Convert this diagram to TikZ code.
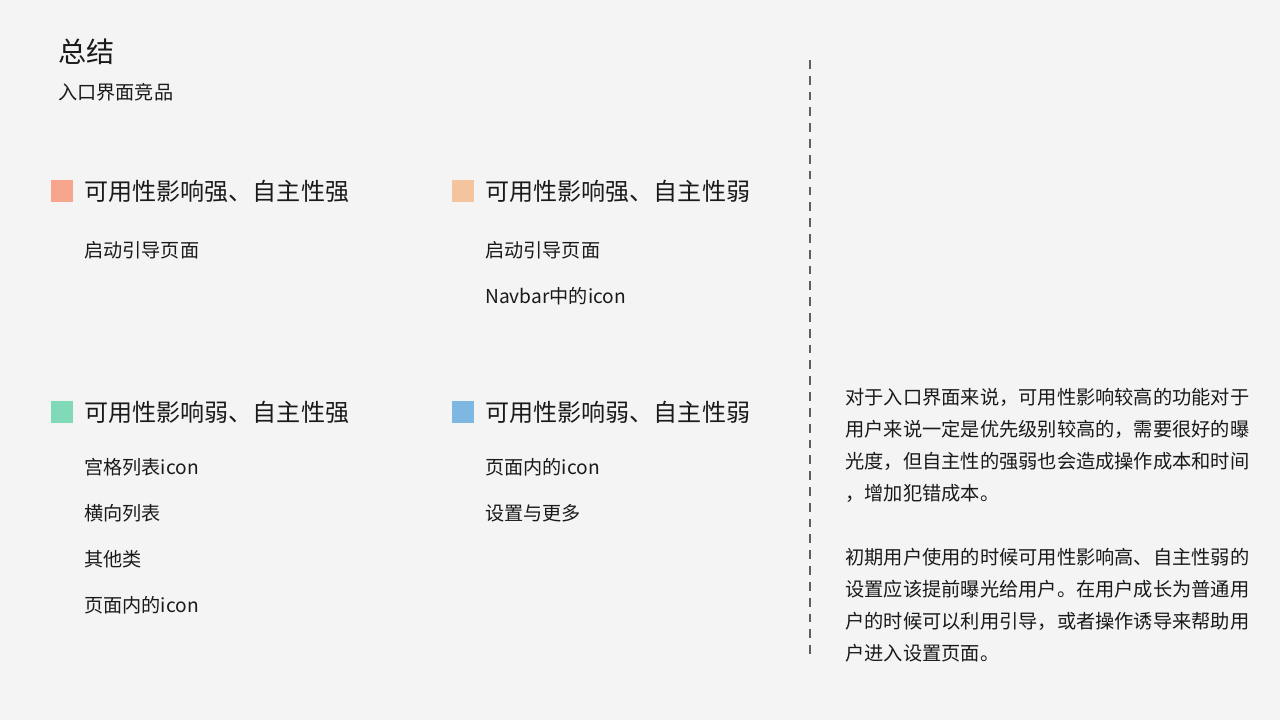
\documentclass[tikz,border=0pt]{standalone}
\usepackage{fontspec}
\setmainfont{Noto Sans CJK SC}
\definecolor{bgcol}{HTML}{F4F4F4}
\definecolor{sqA}{HTML}{F7A58C}
\definecolor{sqB}{HTML}{F3C49D}
\definecolor{sqC}{HTML}{80D9B7}
\definecolor{sqD}{HTML}{7FB7E3}
\definecolor{txt}{HTML}{1A1A1A}
\tikzset{
  head/.style={anchor=west, inner sep=0pt, text=txt, font=\fontsize{13.7}{16}\selectfont},
  item/.style={anchor=west, inner sep=0pt, text=txt, font=\fontsize{10.9}{12}\selectfont},
  para/.style={anchor=west, inner sep=0pt, text=txt, font=\fontsize{10.95}{12}\selectfont},
  swatch/.style={fill=#1, draw=none, minimum size=0.44cm, inner sep=0pt, anchor=west}
}
\begin{document}
\begin{tikzpicture}
    \fill[bgcol] (0,0) rectangle (25.6,14.4);
    \useasboundingbox (0,0) rectangle (25.6,14.4);
    % Titel
    \node[anchor=west, inner sep=0pt, text=txt, font=\fontsize{16}{18}\selectfont] (title) at (1.16,13.36) {总结};
    \node[item] (sub) at (1.16,12.56) {入口界面竞品};

    % Quadrant 1
    \node[swatch=sqA] (sqa) at (1.02,10.58) {};
    \node[head] (ha) at (1.68,10.58) {可用性影响强、自主性强};
    \node[item] (a1) at (1.68,9.40) {启动引导页面};

    % Quadrant 2
    \node[swatch=sqB] (sqb) at (9.04,10.58) {};
    \node[head] (hb) at (9.70,10.58) {可用性影响强、自主性弱};
    \node[item] (b1) at (9.70,9.40) {启动引导页面};
    \node[item] (b2) at (9.70,8.48) {Navbar中的icon};

    % Quadrant 3
    \node[swatch=sqC] (sqc) at (1.02,6.16) {};
    \node[head] (hc) at (1.68,6.16) {可用性影响弱、自主性强};
    \node[item] (c1) at (1.68,5.06) {宫格列表icon};
    \node[item] (c2) at (1.68,4.14) {横向列表};
    \node[item] (c3) at (1.68,3.22) {其他类};
    \node[item] (c4) at (1.68,2.30) {页面内的icon};

    % Quadrant 4
    \node[swatch=sqD] (sqd) at (9.04,6.16) {};
    \node[head] (hd) at (9.70,6.16) {可用性影响弱、自主性弱};
    \node[item] (d1) at (9.70,5.06) {页面内的icon};
    \node[item] (d2) at (9.70,4.14) {设置与更多};

    % Trennlinie
    \coordinate (lt) at (16.2,13.2);
    \coordinate (lb) at (16.2,1.2);
    \draw[txt!70, dash pattern=on 5pt off 4pt, line width=0.6pt] (lt) -- (lb);

    % Text rechts
    \node[para] (p1) at (16.9,6.46) {对于入口界面来说，可用性影响较高的功能对于};
    \node[para] (p2) at (16.9,5.82) {用户来说一定是优先级别较高的，需要很好的曝};
    \node[para] (p3) at (16.9,5.18) {光度，但自主性的强弱也会造成操作成本和时间};
    \node[para] (p4) at (16.9,4.54) {，增加犯错成本。};
    \node[para] (q1) at (16.9,3.26) {初期用户使用的时候可用性影响高、自主性弱的};
    \node[para] (q2) at (16.9,2.62) {设置应该提前曝光给用户。在用户成长为普通用};
    \node[para] (q3) at (16.9,1.98) {户的时候可以利用引导，或者操作诱导来帮助用};
    \node[para] (q4) at (16.9,1.34) {户进入设置页面。};
\end{tikzpicture}
\end{document}
